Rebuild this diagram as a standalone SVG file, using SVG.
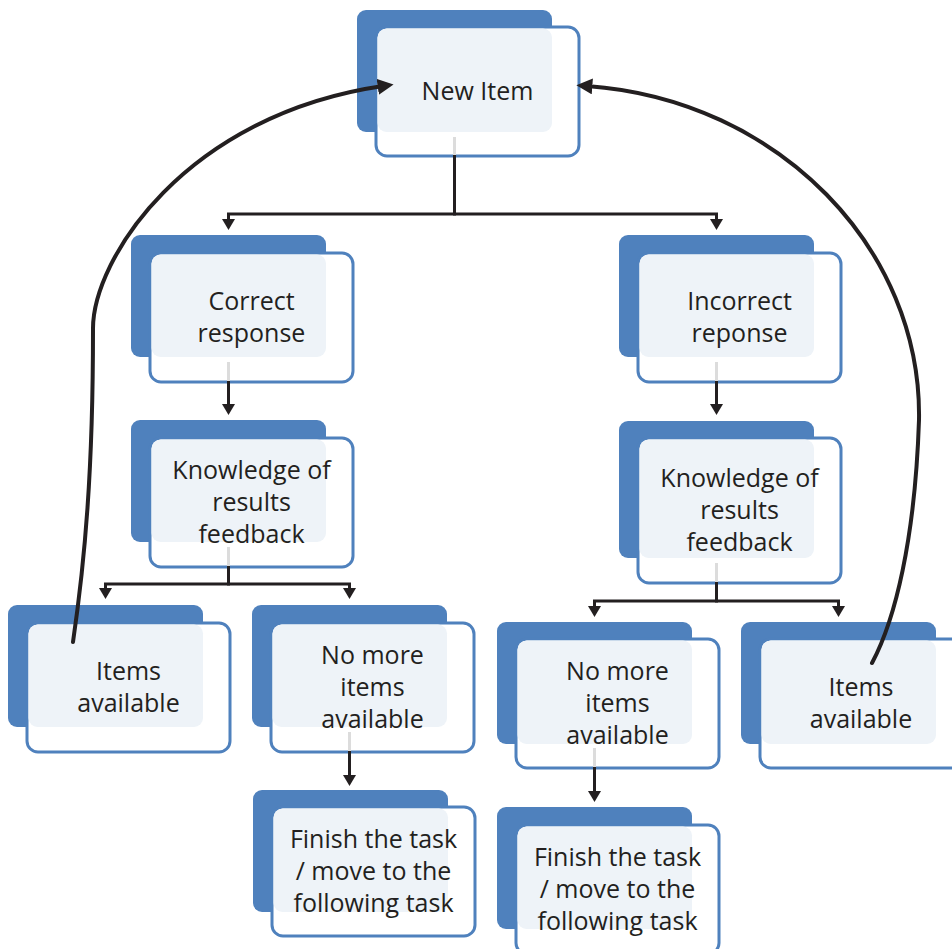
<svg xmlns="http://www.w3.org/2000/svg" width="952" height="949" viewBox="0 0 952 949">
<defs>
<style>
.back{fill:#4F81BD}
.front{fill:#FFFFFF;stroke:#4F81BD;stroke-width:3}
.tint{fill:#EEF3F8}
.lbl{font-family:"Open Sans","Noto Sans",sans-serif;font-size:25px;fill:#231F20;text-anchor:middle}
.ln{fill:none;stroke:#231F20;stroke-width:3}
.stub{fill:none;stroke:#DCDCDC;stroke-width:3}
.cv{fill:none;stroke:#231F20;stroke-width:4;stroke-linecap:round}
</style>
<marker id="arr" markerUnits="userSpaceOnUse" markerWidth="13" markerHeight="13" viewBox="0 0 11 13" refX="3" refY="6.5" orient="auto">
<path d="M0,0 L11,6.5 L0,13 z" fill="#231F20"/>
</marker>
<marker id="arrc" markerUnits="userSpaceOnUse" markerWidth="16" markerHeight="16" viewBox="0 0 15 15" refX="5" refY="7.5" orient="auto">
<path d="M0,0 L15,7.5 L0,15 z" fill="#231F20"/>
</marker>
</defs>
<rect width="952" height="949" fill="#FFFFFF"/>

<g id="n-new-item">
<rect class="back" x="357" y="10" width="195" height="122" rx="9"/>
<rect class="front" x="376" y="27" width="203" height="129" rx="11"/>
<rect class="tint" x="377.5" y="28.5" width="174.5" height="103.5" rx="9"/>
<text class="lbl" x="477.5" y="99.5">New Item</text>
</g>

<g id="n-correct">
<rect class="back" x="131" y="235" width="195" height="122" rx="9"/>
<rect class="front" x="150" y="253" width="203" height="129" rx="11"/>
<rect class="tint" x="151.5" y="254.5" width="174.5" height="102.5" rx="9"/>
<text class="lbl" x="251.5" y="309.5">Correct</text>
<text class="lbl" x="251.5" y="341.5">response</text>
</g>

<g id="n-incorrect">
<rect class="back" x="619" y="235" width="195" height="122" rx="9"/>
<rect class="front" x="638" y="253" width="203" height="129" rx="11"/>
<rect class="tint" x="639.5" y="254.5" width="174.5" height="102.5" rx="9"/>
<text class="lbl" x="739.5" y="309.5">Incorrect</text>
<text class="lbl" x="739.5" y="341.5">reponse</text>
</g>

<g id="n-kr-left">
<rect class="back" x="131" y="420" width="195" height="122" rx="9"/>
<rect class="front" x="150" y="438" width="203" height="129" rx="11"/>
<rect class="tint" x="151.5" y="439.5" width="174.5" height="102.5" rx="9"/>
<text class="lbl" x="251.5" y="478.5">Knowledge of</text>
<text class="lbl" x="251.5" y="510.5">results</text>
<text class="lbl" x="251.5" y="542.5">feedback</text>
</g>

<g id="n-kr-right">
<rect class="back" x="619" y="421" width="195" height="137" rx="9"/>
<rect class="front" x="638" y="438" width="203" height="145" rx="11"/>
<rect class="tint" x="639.5" y="439.5" width="174.5" height="118.5" rx="9"/>
<text class="lbl" x="739.5" y="486.5">Knowledge of</text>
<text class="lbl" x="739.5" y="518.5">results</text>
<text class="lbl" x="739.5" y="550.5">feedback</text>
</g>

<g id="n-items-left">
<rect class="back" x="8" y="605" width="195" height="122" rx="9"/>
<rect class="front" x="27" y="623" width="203" height="129" rx="11"/>
<rect class="tint" x="28.5" y="624.5" width="174.5" height="102.5" rx="9"/>
<text class="lbl" x="128.5" y="680">Items</text>
<text class="lbl" x="128.5" y="712">available</text>
</g>

<g id="n-nomore-left">
<rect class="back" x="252" y="605" width="195" height="122" rx="9"/>
<rect class="front" x="271" y="623" width="203" height="129" rx="11"/>
<rect class="tint" x="272.5" y="624.5" width="174.5" height="102.5" rx="9"/>
<text class="lbl" x="372.5" y="664">No more</text>
<text class="lbl" x="372.5" y="696">items</text>
<text class="lbl" x="372.5" y="728">available</text>
</g>

<g id="n-nomore-right">
<rect class="back" x="497" y="622" width="195" height="122" rx="9"/>
<rect class="front" x="516" y="639" width="203" height="129" rx="11"/>
<rect class="tint" x="517.5" y="640.5" width="174.5" height="103.5" rx="9"/>
<text class="lbl" x="617.5" y="679.5">No more</text>
<text class="lbl" x="617.5" y="711.5">items</text>
<text class="lbl" x="617.5" y="743.5">available</text>
</g>

<g id="n-items-right">
<rect class="back" x="741" y="622" width="195" height="122" rx="9"/>
<rect class="front" x="760" y="639" width="203" height="129" rx="11"/>
<rect class="tint" x="761.5" y="640.5" width="174.5" height="103.5" rx="9"/>
<text class="lbl" x="861" y="695.5">Items</text>
<text class="lbl" x="861" y="727.5">available</text>
</g>

<g id="n-finish-left">
<rect class="back" x="253" y="790" width="195" height="122" rx="9"/>
<rect class="front" x="272" y="807" width="203" height="129" rx="11"/>
<rect class="tint" x="273.5" y="808.5" width="174.5" height="103.5" rx="9"/>
<text class="lbl" x="373.5" y="847.5">Finish the task</text>
<text class="lbl" x="373.5" y="879.5">/ move to the</text>
<text class="lbl" x="373.5" y="911.5">following task</text>
</g>

<g id="n-finish-right">
<rect class="back" x="497" y="807" width="195" height="122" rx="9"/>
<rect class="front" x="516" y="825" width="203" height="129" rx="11"/>
<rect class="tint" x="517.5" y="826.5" width="174.5" height="102.5" rx="9"/>
<text class="lbl" x="617.5" y="865.5">Finish the task</text>
<text class="lbl" x="617.5" y="897.5">/ move to the</text>
<text class="lbl" x="617.5" y="929.5">following task</text>
</g>

<g id="connectors">
<path class="stub" d="M454.5,137 V155"/>
<path class="stub" d="M228.5,362 V381"/>
<path class="stub" d="M716.5,362 V381"/>
<path class="stub" d="M228.5,547 V566"/>
<path class="stub" d="M716.5,563 V582"/>
<path class="stub" d="M349.5,732 V751"/>
<path class="stub" d="M594.5,748 V767"/>

<path class="ln" d="M454.5,155 V214"/>
<path class="ln" d="M456,214 H228.5 V222" marker-end="url(#arr)"/>
<path class="ln" d="M453,214 H716.5 V222" marker-end="url(#arr)"/>
<path class="ln" d="M228.5,381 V407" marker-end="url(#arr)"/>
<path class="ln" d="M716.5,381 V407" marker-end="url(#arr)"/>
<path class="ln" d="M228.5,566 V584"/>
<path class="ln" d="M230,584 H105.5 V591" marker-end="url(#arr)"/>
<path class="ln" d="M227,584 H349.5 V591" marker-end="url(#arr)"/>
<path class="ln" d="M716.5,582 V601"/>
<path class="ln" d="M718,601 H594.5 V609" marker-end="url(#arr)"/>
<path class="ln" d="M715,601 H838.5 V609" marker-end="url(#arr)"/>
<path class="ln" d="M349.5,751 V778" marker-end="url(#arr)"/>
<path class="ln" d="M594.5,767 V794" marker-end="url(#arr)"/>

<path class="cv" d="M73,642 C85,560 93,470 93,330 C92,260 185,115 383,86" marker-end="url(#arrc)"/>
<path class="cv" d="M872,663 C895,620 915,540 919,420 C922,250 780,100 587,86" marker-end="url(#arrc)"/>
</g>
</svg>
